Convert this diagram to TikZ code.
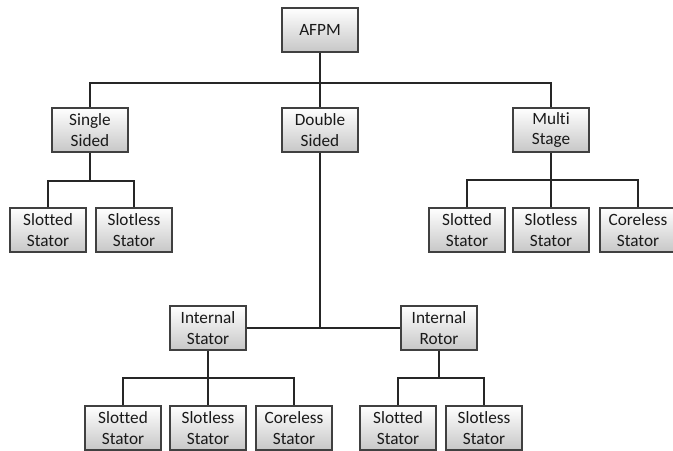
\documentclass[tikz,border=0pt]{standalone}
\usepackage{fontspec}
\setmainfont{Carlito}[Ligatures=NoCommon]
\usetikzlibrary{shadows}
\tikzset{
	blk/.style={draw=black!75, line width=0.6pt, top color=white, bottom color=black!22,
		minimum width=1.52cm, minimum height=0.88cm, inner sep=1pt, align=center,
		font=\fontsize{9.8}{11.9}\selectfont, text=black!90,
		drop shadow={opacity=0.35, shadow xshift=0.8pt, shadow yshift=-0.8pt}},
	lnk/.style={draw=black!85, line width=0.6pt}
}
\begin{document}
\begin{tikzpicture}[x=0.02cm, y=-0.02cm]
	\useasboundingbox (0,0) rectangle (673,450);

	% level 0 and 1
	\node[blk] (afpm) at (320,30) {AFPM};
	\node[blk] (single) at (90,130) {Single\\Sided};
	\node[blk] (double) at (320,130) {Double\\Sided};
	\node[blk] (multi) at (551,130) {Multi\\Stage};

	% single sided
	\node[blk] (sslot) at (48,230) {Slotted\\Stator};
	\node[blk] (ssless) at (134,230) {Slotless\\Stator};

	% multi stage
	\node[blk] (mslot) at (467,230) {Slotted\\Stator};
	\node[blk] (mless) at (551,230) {Slotless\\Stator};
	\node[blk] (mcore) at (638,230) {Coreless\\Stator};

	% double sided
	\node[blk] (istat) at (208,328) {Internal\\Stator};
	\node[blk] (irot) at (439,328) {Internal\\Rotor};
	\node[blk] (islot) at (123,428) {Slotted\\Stator};
	\node[blk] (isless) at (208,428) {Slotless\\Stator};
	\node[blk] (icore) at (294,428) {Coreless\\Stator};
	\node[blk] (rslot) at (398,428) {Slotted\\Stator};
	\node[blk] (rless) at (484,428) {Slotless\\Stator};

	% junctions
	\coordinate (jtop) at (320,83);
	\coordinate (jss) at (90,181);
	\coordinate (jms) at (551,180);
	\coordinate (jds) at (320,328);
	\coordinate (jis) at (208,378);
	\coordinate (jir) at (439,378);

	\draw[lnk] (afpm) -- (jtop);
	\draw[lnk] (single.north) |- (jtop) -| (multi.north);
	\draw[lnk] (jtop) -- (double);

	\draw[lnk, line width=1.2pt] (single) -- (jss);
	\draw[lnk] (sslot.north) |- (jss) -| (ssless.north);

	\draw[lnk] (multi) -- (jms);
	\draw[lnk] (mslot.north) |- (jms) -| (mcore.north);
	\draw[lnk] (jms) -- (mless);

	\draw[lnk] (double) -- (jds);
	\draw[lnk] (istat) -- (irot);

	\draw[lnk] (istat) -- (jis);
	\draw[lnk] (islot.north) |- (jis) -| (icore.north);
	\draw[lnk] (jis) -- (isless);

	\draw[lnk] (irot) -- (jir);
	\draw[lnk] (rslot.north) |- (jir) -| (rless.north);
\end{tikzpicture}
\end{document}
